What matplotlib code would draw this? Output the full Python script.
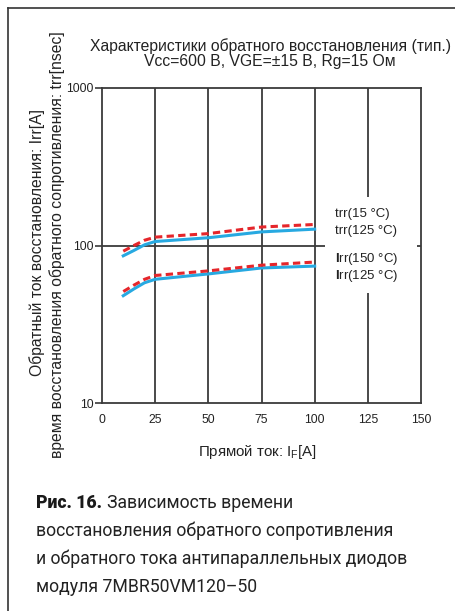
import numpy as np
import matplotlib
matplotlib.use('Agg')
from matplotlib import pyplot as plt
from matplotlib import font_manager
from matplotlib.lines import Line2D
from matplotlib.patches import Rectangle

# forward current, A
i_f = [10, 15, 20, 25, 50, 75, 100]
# reverse recovery time, ns
trr_hot = [86, 93, 101, 106, 112, 122, 127]
trr_cold = [92, 100, 108, 113, 119, 131, 136]
# reverse recovery current, A
irr_125 = [48, 53, 58, 61, 66, 72, 74]
irr_150 = [51, 56, 61, 64.5, 69, 75, 78.5]

x_ticks = [0, 25, 50, 75, 100, 125, 150]
y_ticks = [10, 100, 1000]
curve_labels = ['trr(15 °C)', 'trr(125 °C)', r'$\mathbf{I}$rr(150 °C)', r'$\mathbf{I}$rr(125 °C)']
label_y = [158, 123.6, 82, 64]

plt.rcParams['font.family'] = ['Liberation Sans', 'DejaVu Sans']
plt.rcParams['mathtext.fontset'] = 'custom'
plt.rcParams['mathtext.rm'] = 'Liberation Sans'
plt.rcParams['mathtext.bf'] = 'Liberation Sans:bold'

W, H = 455, 611
fig = plt.figure(figsize=(W / 100, H / 100), dpi=100)
ax = fig.add_axes([102 / W, 1 - 403 / H, (421 - 102) / W, (403 - 88) / H])

blue = '#27a9e1'
red = '#e5262b'
grid_c = '#3a3a3a'
txt_c = '#222222'

ax.set_yscale('log')
ax.set_xlim(0, 150)
ax.set_ylim(10, 1000)

for xv in x_ticks[1:-1]:
    ax.axvline(xv, color=grid_c, lw=1.3, zorder=1)
ax.axhline(100, color=grid_c, lw=1.3, zorder=1)

# white box behind the curve labels
ax.add_patch(Rectangle((105, 50), 43, 153, facecolor='white', edgecolor='none', zorder=2))

ax.plot(i_f, trr_hot, color=blue, lw=2.2, zorder=3)
ax.plot(i_f, irr_125, color=blue, lw=2.2, zorder=3)
ax.plot(i_f, trr_cold, color=red, lw=2.2, ls=(0, (2.4, 1.4)), zorder=4)
ax.plot(i_f, irr_150, color=red, lw=2.2, ls=(0, (2.4, 1.4)), zorder=4)

for lab, yv in zip(curve_labels, label_y):
    ax.text(109.5, yv, lab, fontsize=9.5, va='center', ha='left', color=txt_c, zorder=5)

ax.set_xticks(x_ticks)
ax.set_xticklabels([str(v) for v in x_ticks])
ax.set_yticks(y_ticks)
ax.set_yticklabels([str(v) for v in y_ticks])
ax.yaxis.set_minor_locator(matplotlib.ticker.NullLocator())
ax.tick_params(axis='x', length=0, pad=8, labelsize=8.7, labelcolor=txt_c)
ax.tick_params(axis='y', length=5, width=1.2, color=grid_c, pad=1, labelsize=8.7, labelcolor=txt_c)
for s in ax.spines.values():
    s.set_color(grid_c)
    s.set_linewidth(1.3)

fig.text(270 / W, 1 - 53.5 / H,
         'Характеристики обратного восстановления (тип.)\nVcc=600 В, VGE=±15 В, Rg=15 Ом',
         ha='center', va='center', fontsize=11.3, linespacing=1.05, color=txt_c)
fig.text(258 / W, 1 - 452 / H, r'Прямой ток: I$_\mathregular{F}$[A]',
         ha='center', va='center', fontsize=10.8, color=txt_c)
fig.text(37 / W, 1 - 242 / H, 'Обратный ток восстановления: Irr[A]',
         rotation=90, ha='center', va='center', fontsize=11.3, color=txt_c)
fig.text(57 / W, 1 - 245 / H, 'время восстановления обратного сопротивления: trr[nsec]',
         rotation=90, ha='center', va='center', fontsize=11.3, color=txt_c)

# frame around the figure
fig.add_artist(Line2D([8 / W, 8 / W], [0, 1 - 8 / H], color='#333333', lw=1.2))
fig.add_artist(Line2D([8 / W, 1], [1 - 8 / H, 1 - 8 / H], color='#333333', lw=1.2))

# caption
names = {f.name for f in font_manager.fontManager.ttflist}
if 'Liberation Sans Narrow' in names:
    cap_font, cap_size = 'Liberation Sans Narrow', 15
else:
    cap_font, cap_size = 'Roboto', 12.7
cap_lines = ['восстановления обратного сопротивления',
             'и обратного тока антипараллельных диодов',
             'модуля 7MBR50VM120–50']
t1 = fig.text(36 / W, 1 - 508 / H, 'Рис. 16.', fontsize=cap_size, family=cap_font,
              weight='heavy', va='baseline', ha='left', color='#1a1a1a')
fig.canvas.draw()
bb = t1.get_window_extent()
fig.text((bb.x1 + 5) / W, 1 - 508 / H, 'Зависимость времени', fontsize=cap_size,
         family=cap_font, va='baseline', ha='left', color=txt_c)
for k, line in enumerate(cap_lines):
    fig.text(36 / W, 1 - (536 + 28 * k) / H, line, fontsize=cap_size, family=cap_font,
             va='baseline', ha='left', color=txt_c)

fig.savefig('out.png', dpi=100)
